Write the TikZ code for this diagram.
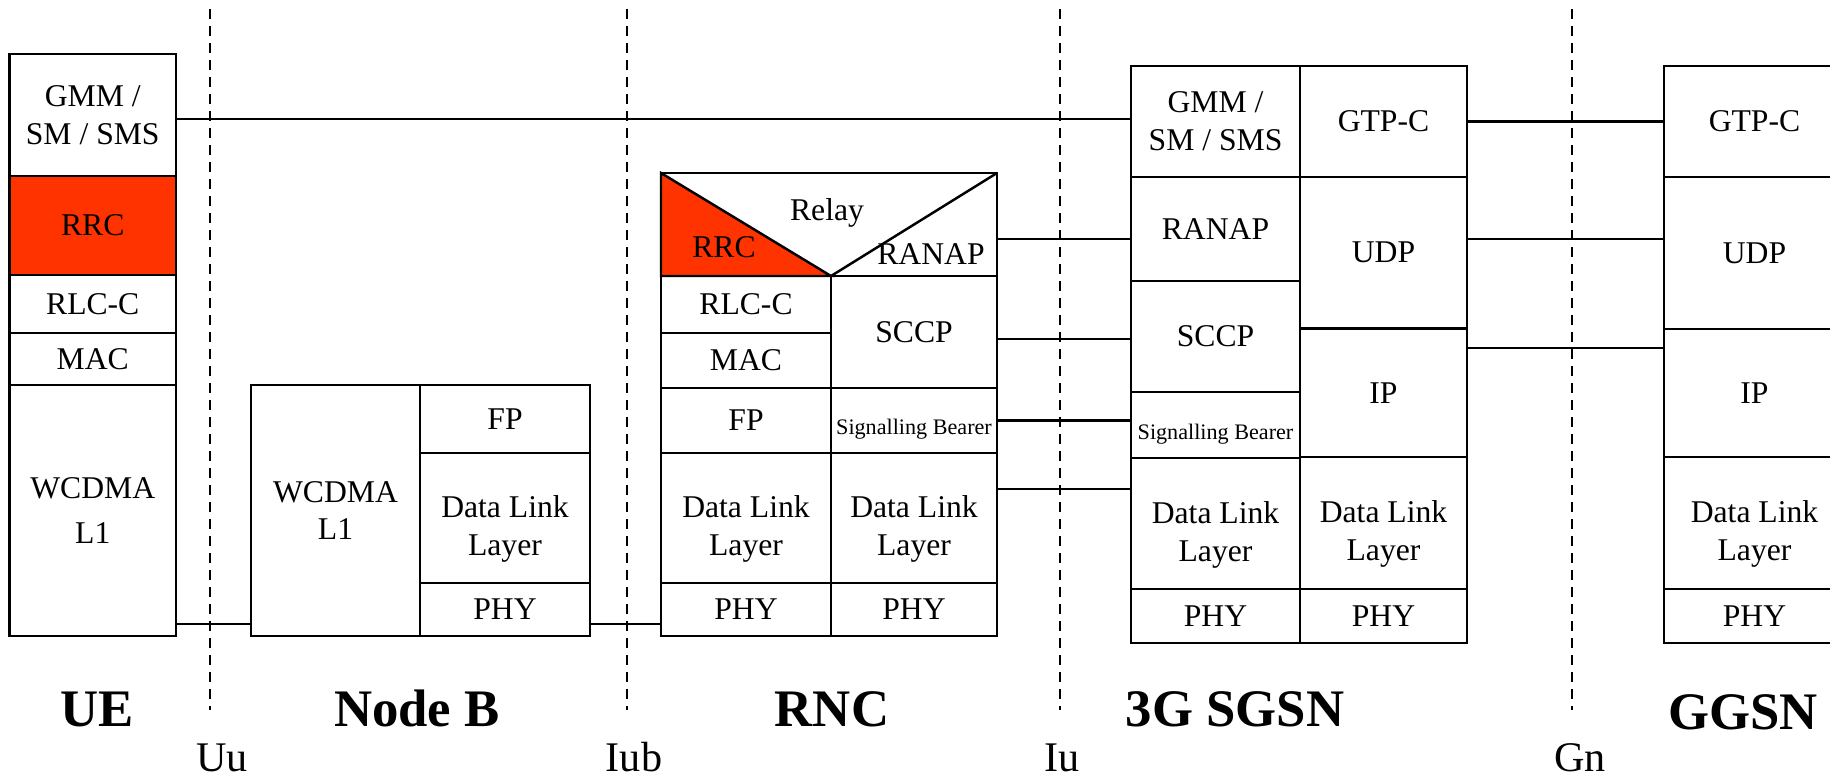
\documentclass[tikz,border=0pt]{standalone}
\usepackage{fontspec}
\setmainfont{Liberation Serif}
\definecolor{rrcred}{RGB}{255,51,0}
\tikzset{
  layer/.style={draw,line width=0.7pt,inner sep=0pt,outer sep=0pt,anchor=north west,
                align=center,font=\fontsize{9}{10.8}\selectfont},
  sigtext/.style={font=\fontsize{6.3}{7}\selectfont,text height=9.4pt},
  lowtext/.style={text height=23.5pt},
  tag/.style={anchor=base,inner sep=0pt,font=\fontsize{9}{10.8}\selectfont},
  peer/.style={line width=0.6pt},
  iface/.style={line width=0.7pt,dash pattern=on 0.1cm off 0.07cm},
  netname/.style={anchor=base,inner sep=0pt,font=\bfseries\fontsize{15}{18}\selectfont},
  ifname/.style={anchor=base,inner sep=0pt,font=\fontsize{12}{14}\selectfont}
}
% one protocol layer: name, left, top, right, bottom (pixels), text
\newcommand{\stk}[7][]{%
  \node[layer,minimum width={(#5-#3)*0.01cm},minimum height={(#6-#4)*0.01cm},#1]
    (#2) at (#3,#4) {#7};}
\begin{document}
\begin{tikzpicture}[x=0.01cm,y=-0.01cm]
\useasboundingbox (0,0) rectangle (1830,775);

% interface borders
\foreach \x in {210,627,1060,1572}
  \draw[iface] (\x,9) -- (\x,710);

% UE
\stk{ugmm}{9.5}{54}{176}{176}{GMM /\\SM / SMS}
\stk[fill=rrcred]{urrc}{9.5}{176}{176}{275}{RRC}
\stk{urlc}{9.5}{275}{176}{333}{RLC-C}
\stk{umac}{9.5}{333}{176}{385}{MAC}
\stk{ul1}{9.5}{385}{176}{636}{WCDMA\\[2pt]L1}

% Node B
\stk{nl1}{251}{385}{420}{636}{WCDMA\\L1}
\stk{nfp}{420}{385}{590}{453}{FP}
\stk[lowtext]{ndll}{420}{453}{590}{583}{Data Link\\Layer}
\stk{nphy}{420}{583}{590}{636}{PHY}

% RNC
\stk{rtop}{661}{173}{997}{276}{}
\stk{rrlc}{661}{276}{831}{333}{RLC-C}
\stk{rmac}{661}{333}{831}{388}{MAC}
\stk{rfp}{661}{388}{831}{453}{FP}
\stk[lowtext]{rdll}{661}{453}{831}{583}{Data Link\\Layer}
\stk{rphy}{661}{583}{831}{636}{PHY}
\stk{rsccp}{831}{276}{997}{388}{SCCP}
\stk[sigtext]{rsig}{831}{388}{997}{453}{Signalling Bearer}
\stk[lowtext]{rdllb}{831}{453}{997}{583}{Data Link\\Layer}
\stk{rphyb}{831}{583}{997}{636}{PHY}
\filldraw[fill=rrcred,line width=0.7pt] (rtop.north west) -- (rtop.south west)
  -- (rrlc.north east) -- cycle;
\draw[line width=0.7pt] (rrlc.north east) -- (rtop.north east);
\node[tag] (rrelay) at (827,220) {Relay};
\node[tag] (rrrc) at (724,257) {RRC};
\node[tag] (rranap) at (931,264) {RANAP};

% 3G SGSN
\stk{sgmm}{1131}{66}{1300}{177}{GMM /\\SM / SMS}
\stk{sranap}{1131}{177}{1300}{281}{RANAP}
\stk{ssccp}{1131}{281}{1300}{392}{SCCP}
\stk[sigtext]{ssig}{1131}{392}{1300}{458}{Signalling Bearer}
\stk[lowtext]{sdll}{1131}{458}{1300}{589}{Data Link\\Layer}
\stk{sphy}{1131}{589}{1300}{643}{PHY}
\stk{sgtp}{1300}{66}{1467}{177}{GTP-C}
\stk{sudp}{1300}{177}{1467}{328.5}{UDP}
\stk{sip}{1300}{328.5}{1467}{457}{IP}
\stk[lowtext]{sdllb}{1300}{457}{1467}{589}{Data Link\\Layer}
\stk{sphyb}{1300}{589}{1467}{643}{PHY}

% GGSN (runs off the right edge)
\stk{ggtp}{1664}{66}{1845}{177}{GTP-C}
\stk{gudp}{1664}{177}{1845}{329}{UDP}
\stk{gip}{1664}{329}{1845}{457}{IP}
\stk[lowtext]{gdll}{1664}{457}{1845}{589}{Data Link\\Layer}
\stk{gphy}{1664}{589}{1845}{643}{PHY}

% peer links
\draw[peer] ([yshift=-0.04cm]ugmm.east) coordinate (p1) -- (p1 -| sgmm.west);
\draw[peer] ([yshift=-0.145cm]rtop.east) coordinate (p2) -- (p2 -| sranap.west);
\draw[peer] ([yshift=-0.07cm]rsccp.east) coordinate (p3) -- (p3 -| ssccp.west);
\draw[peer] (rsig.east) -- (rsig.east -| ssig.west);
\draw[peer] ([yshift=0.29cm]rdllb.east) coordinate (p5) -- (p5 -| sdll.west);
\draw[peer] (sgtp.east) -- (sgtp.east -| ggtp.west);
\draw[peer] ([yshift=0.14cm]sudp.east) coordinate (p7) -- (p7 -| gudp.west);
\draw[peer] ([yshift=0.45cm]sip.east) coordinate (p8) -- (p8 -| gip.west);
\draw[peer] ([yshift=0.12cm]ul1.south east) coordinate (p9) -- (p9 -| nl1.west);
\draw[peer] ([yshift=0.12cm]nphy.south east) coordinate (p10) -- (p10 -| rphy.west);

% network elements and interfaces
\node[netname] (lue) at (97,726) {UE};
\node[netname] (lnodeb) at (417,726) {Node B};
\node[netname] (lrnc) at (832,726) {RNC};
\node[netname] (lsgsn) at (1235,726) {3G SGSN};
\node[netname] (lggsn) at (1743,729) {GGSN};
\node[ifname] (luu) at (222,771) {Uu};
\node[ifname] (liub) at (634,771) {Iub};
\node[ifname] (liu) at (1062,771) {Iu};
\node[ifname] (lgn) at (1580,771) {Gn};
\end{tikzpicture}
\end{document}
